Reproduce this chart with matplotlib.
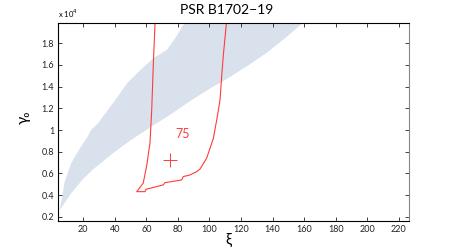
import numpy as np
import matplotlib
matplotlib.use("Agg")
import matplotlib.pyplot as plt

plt.rcParams['font.family'] = ['Lato', 'DejaVu Sans']

# allowed band, upper-left edge (xi, gamma0)
band_up_xi = [5.2, 6.9, 8.0, 10.1, 12.2, 15.4, 18.5, 22.8, 25.0, 29.5, 34.0, 40.0,
              47.7, 56.0, 64.3, 73.0, 78.0, 83.0, 86.0]
band_up_g = [2800, 4000, 5100, 6000, 6900, 7700, 8450, 9400, 10000, 10650, 11550, 12700,
             14300, 15500, 16600, 17400, 18400, 19600, 20100]
# allowed band, lower-right edge
band_lo_xi = [5.2, 9.0, 12.0, 15.4, 19.6, 26.0, 32.0, 40.0, 50.0, 63.0, 75.0, 88.0,
              100.0, 112.0, 125.0, 137.0, 149.0, 158.5, 160.0]
band_lo_g = [2640, 3450, 4100, 4700, 5450, 6350, 7050, 8000, 9050, 10300, 11400, 12700,
             13800, 14800, 16000, 17200, 18600, 19800, 20100]

# red contour (75 deg)
cont_xi = [65.8, 65.5, 64.4, 63.4, 62.9, 62.3, 60.2, 58.0, 53.9, 59.1, 59.8, 70.7, 71.8,
           82.4, 83.4, 87.7, 91.9, 94.0, 98.2, 102.4, 104.6, 106.7, 107.8, 108.8, 110.9]
cont_g = [20100, 19870, 16000, 11850, 10470, 8810, 6700, 5100, 4320, 4320, 4540, 4940, 5150,
          5400, 5710, 5860, 6170, 6400, 7400, 9200, 10930, 12770, 15080, 16920, 20100]
cont_label = "75"
best_xi, best_g = 75, 7200

fig = plt.figure(figsize=(4.52, 2.49), dpi=100)
ax = fig.add_axes([0.129, 0.114, 0.776, 0.795])

poly_x = band_up_xi + band_lo_xi[::-1]
poly_y = band_up_g + band_lo_g[::-1]
ax.fill(poly_x, poly_y, color='#d9e1ec', lw=0)

ax.plot(cont_xi, cont_g, color='#ff3b3b', lw=0.8)
ax.plot(best_xi, best_g, '+', color='#ff3b3b', ms=10, mew=0.7)
ax.text(83, 9650, cont_label, color='#ff3b3b', fontsize=9, ha='center', va='center')

ax.set_xlim(4.2, 226.5)
ax.set_ylim(1650, 19900)
ax.set_xticks(np.arange(20, 221, 20))
ax.set_yticks(np.arange(2000, 18001, 2000))
ax.yaxis.set_major_formatter(plt.FuncFormatter(lambda v, p: f'{v/1e4:g}'))
ax.tick_params(direction='in', top=True, right=True, length=3, width=0.6,
               labelsize=6.5, pad=3, colors='#222222')
for s in ax.spines.values():
    s.set_linewidth(0.8)
ax.spines['right'].set_color('#888888')

ax.text(0.0, 1.015, r'x 10$^4$', transform=ax.transAxes, fontsize=5.5,
        ha='left', va='bottom')
ax.set_title('PSR B1702\u221219', fontsize=10, pad=6, x=0.48)

ax.set_xlabel('ξ', fontsize=11)
ax.xaxis.label.set_va('center')
ax.xaxis.set_label_coords(0.484, -0.1)
ax.set_ylabel('γ₀', fontsize=11)
ax.yaxis.label.set_va('center')
ax.yaxis.set_label_coords(-0.1, 0.52)

fig.savefig('out.png', dpi=100)
